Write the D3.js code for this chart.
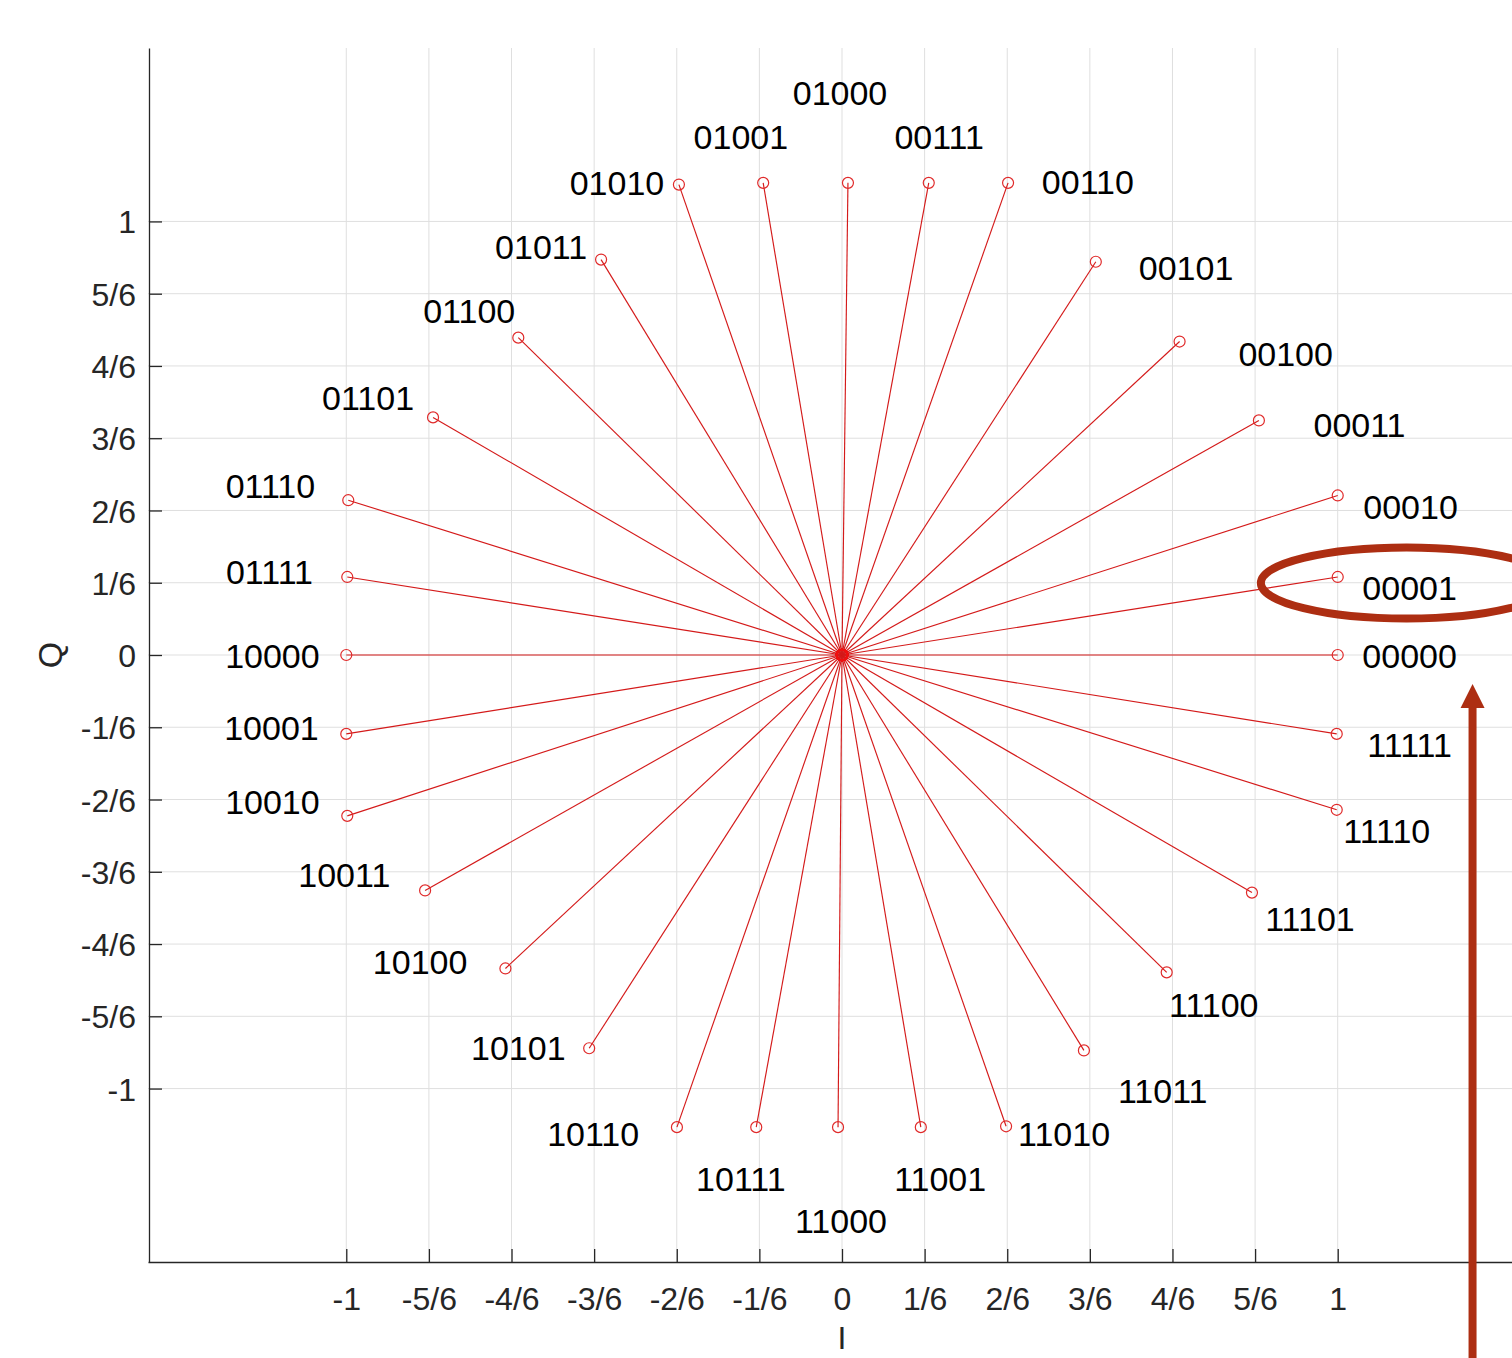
<!DOCTYPE html>
<html>
<head>
<meta charset="utf-8">
<script src="https://cdn.jsdelivr.net/npm/d3@7"></script>
<style>
body{margin:0;background:#fff}
svg{display:block;font-family:"Liberation Sans",Arial,Helvetica,sans-serif}
</style>
</head>
<body>
<svg id="chart" width="1512" height="1358"></svg>
<script>
// constellation symbols, counter-clockwise from (1,0)
const labels=["00000","00001","00010","00011","00100","00101","00110","00111",
  "01000","01001","01010","01011","01100","01101","01110","01111",
  "10000","10001","10010","10011","10100","10101","10110","10111",
  "11000","11001","11010","11011","11100","11101","11110","11111"];
const pointI=[1,1,1,0.841,0.681,0.512,0.335,0.175,
  0.012,-0.159,-0.329,-0.486,-0.653,-0.825,-0.996,-0.998,
  -1,-1,-0.998,-0.841,-0.679,-0.510,-0.333,-0.173,
  -0.008,0.159,0.331,0.488,0.655,0.827,0.998,0.998];
const pointQ=[0,0.180,0.368,0.541,0.723,0.907,1.089,1.089,
  1.089,1.089,1.085,0.912,0.732,0.548,0.357,0.180,
  0,-0.182,-0.371,-0.543,-0.723,-0.907,-1.089,-1.089,
  -1.089,-1.089,-1.087,-0.912,-0.732,-0.548,-0.357,-0.182];
// text() positions of the labels (data units)
const labelI=[1.145,1.145,1.147,1.044,0.895,0.694,0.496,0.196,
  -0.004,-0.204,-0.454,-0.607,-0.752,-0.956,-1.153,-1.155,
  -1.149,-1.151,-1.149,-1.004,-0.851,-0.653,-0.502,-0.204,
  -0.002,0.198,0.448,0.647,0.750,0.944,1.099,1.145];
const labelQ=[-0.002,0.154,0.343,0.532,0.695,0.893,1.091,1.195,
  1.296,1.195,1.089,0.942,0.794,0.594,0.391,0.191,
  -0.002,-0.168,-0.338,-0.507,-0.707,-0.907,-1.105,-1.209,
  -1.306,-1.209,-1.105,-1.006,-0.806,-0.608,-0.405,-0.207];

const tickValues=[-1,-5/6,-4/6,-3/6,-2/6,-1/6,0,1/6,2/6,3/6,4/6,5/6,1];
const tickLabels=["-1","-5/6","-4/6","-3/6","-2/6","-1/6","0","1/6","2/6","3/6","4/6","5/6","1"];

// annotation (highlight ellipse + arrow), data units
const markI=1.139, markQ=0.166, markRI=0.294, markRQ=0.082;
const arrowI=1.272, arrowTipQ=-0.067, arrowTailQ=-1.65;

const svg=d3.select("#chart");
const mLeft=148, mRight=1536, mTop=48, mBottom=1262;

const x=d3.scaleLinear().domain([-1.4,1.4]).range([mLeft,mRight]);
const y=d3.scaleLinear().domain([-1.4,1.4]).range([mBottom,mTop]);

const data=labels.map((d,i)=>({label:d,I:pointI[i],Q:pointQ[i],lI:labelI[i],lQ:labelQ[i]}));

// GRID
const grid=svg.append("g").attr("stroke","#dfdfdf").attr("stroke-width",1);
grid.selectAll(".gx").data(tickValues).enter().append("line")
  .attr("x1",d=>x(d)).attr("x2",d=>x(d)).attr("y1",mTop).attr("y2",mBottom);
grid.selectAll(".gy").data(tickValues).enter().append("line")
  .attr("x1",mLeft).attr("x2",mRight).attr("y1",d=>y(d)).attr("y2",d=>y(d));

// AXES
const xAxis=svg.append("g").attr("transform","translate(0,"+mBottom+")")
  .call(d3.axisBottom(x).tickValues(tickValues).tickFormat((d,i)=>tickLabels[i])
    .tickSizeInner(-13).tickSizeOuter(0).tickPadding(25));
const yAxis=svg.append("g").attr("transform","translate("+(mLeft+1)+",0)")
  .call(d3.axisLeft(y).tickValues(tickValues).tickFormat((d,i)=>tickLabels[i])
    .tickSizeInner(-13).tickSizeOuter(0).tickPadding(13));
[xAxis,yAxis].forEach(a=>{
  a.select(".domain").attr("stroke","#262626").attr("stroke-width",1.3);
  a.selectAll(".tick line").attr("stroke","#262626").attr("stroke-width",1.3);
  a.selectAll(".tick text").attr("fill","#262626").style("font-size","32px")
    .style("font-family","'Liberation Sans',Arial,sans-serif");
});
yAxis.selectAll(".tick text").attr("dy","0.36em");

// AXIS TITLES
svg.append("text").attr("transform","translate(62,"+y(0)+") rotate(-90)")
  .attr("text-anchor","middle").attr("fill","#262626").style("font-size","34px").text("Q");
svg.append("text").attr("x",x(0)).attr("y",1349)
  .attr("text-anchor","middle").attr("fill","#262626").style("font-size","32px").text("I");

// SPOKES
const plot=svg.append("g");
plot.selectAll(".spoke").data(data).enter().append("line")
  .attr("x1",x(0)).attr("y1",y(0))
  .attr("x2",d=>x(d.I)).attr("y2",d=>y(d.Q))
  .attr("stroke","#d41a1a").attr("stroke-width",1.15);
plot.selectAll(".origin").data(data).enter().append("circle")
  .attr("cx",x(0)).attr("cy",y(0)).attr("r",5.5)
  .attr("fill","none").attr("stroke","#f01010").attr("stroke-width",1.5);
plot.selectAll(".pt").data(data).enter().append("circle")
  .attr("cx",d=>x(d.I)).attr("cy",d=>y(d.Q)).attr("r",5.5)
  .attr("fill","none").attr("stroke","#e02a2a").attr("stroke-width",1.2);

// LABELS
svg.selectAll(".lab").data(data).enter().append("text")
  .attr("x",d=>x(d.lI)).attr("y",d=>y(d.lQ)).attr("dy","0.36em")
  .attr("text-anchor","middle").attr("fill","#000").style("font-size","34px")
  .text(d=>d.label);

// ANNOTATION
const ann="#ad2e12";
svg.append("ellipse")
  .attr("cx",x(markI)).attr("cy",y(markQ))
  .attr("rx",x(markI+markRI)-x(markI)).attr("ry",y(markQ-markRQ)-y(markQ))
  .attr("fill","none").attr("stroke",ann).attr("stroke-width",8);
const ax=x(arrowI), tipY=y(arrowTipQ);
svg.append("line").attr("x1",ax).attr("x2",ax).attr("y1",tipY+20).attr("y2",y(arrowTailQ))
  .attr("stroke",ann).attr("stroke-width",8);
svg.append("path")
  .attr("d",d3.line()([[ax,tipY],[ax+12,tipY+24],[ax-12,tipY+24]])+"Z")
  .attr("fill",ann);
</script>
</body>
</html>
